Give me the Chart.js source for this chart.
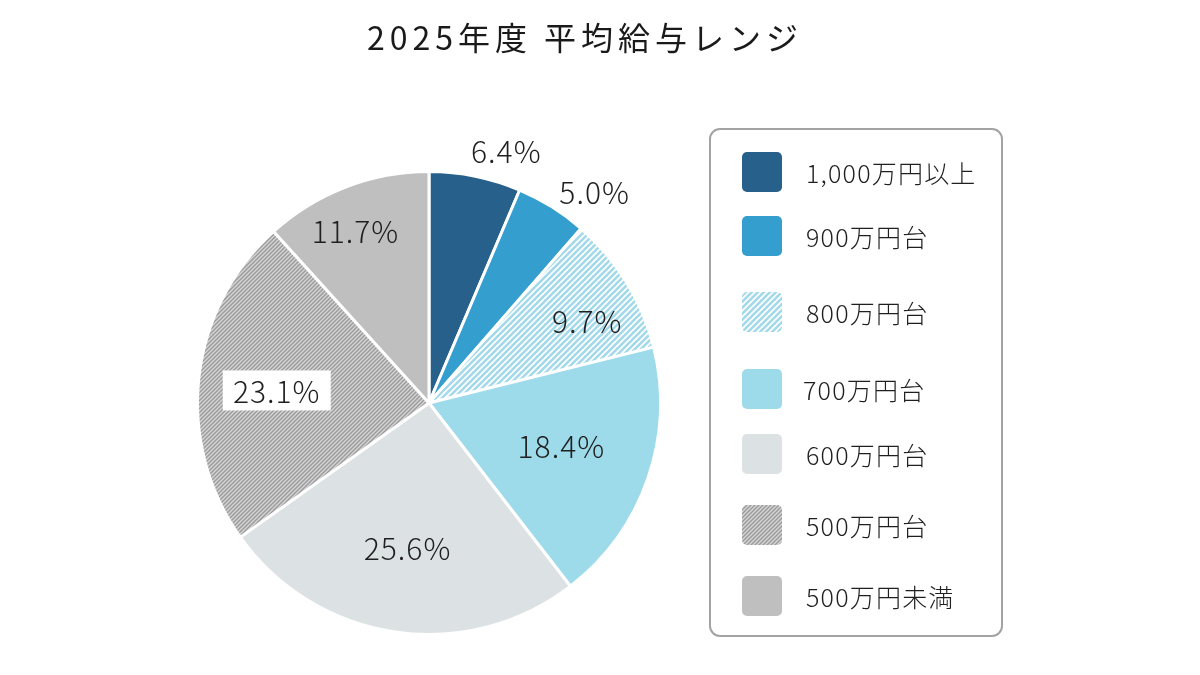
<!DOCTYPE html>
<html lang="ja">
<head>
<meta charset="utf-8">
<script src="https://cdn.jsdelivr.net/npm/chart.js@4/dist/chart.umd.min.js"></script>
<style>
  html, body { margin: 0; padding: 0; background: #fff; }
  #wrap { position: relative; width: 1200px; height: 675px; }
</style>
</head>
<body>
<div id="wrap"><canvas id="salary-pie" width="1200" height="675"></canvas></div>
<script>
const chartTitle = "2025年度 平均給与レンジ";
const rangeLabels = ["1,000万円以上", "900万円台", "800万円台", "700万円台", "600万円台", "500万円台", "500万円未満"];
const shareValues = [6.4, 5.0, 9.7, 18.4, 25.6, 23.1, 11.7];

// label placement per slice: radius factor and angle nudge (deg)
const labelRadius = [1.14, 1.16, 0.77, 0.6, 0.63, 0.66, 0.81];
const labelNudge = [5.5, 6, 4, -1.5, 0, -1.5, -2];
const legendRowY = [172, 236, 312, 389, 454, 525, 596];

const FONT = '"Noto Sans CJK JP", "Noto Sans", sans-serif';

function stripes(bg, fg, size, line) {
  const c = document.createElement("canvas");
  c.width = size;
  c.height = size;
  const g = c.getContext("2d");
  g.fillStyle = bg;
  g.fillRect(0, 0, size, size);
  g.strokeStyle = fg;
  g.lineWidth = line;
  g.beginPath();
  for (let k = -1; k <= 1; k++) {
    g.moveTo(k * size - 1, size + 1);
    g.lineTo(k * size + size + 1, -1);
  }
  g.stroke();
  return g.createPattern(c, "repeat");
}

const ctx = document.getElementById("salary-pie").getContext("2d");
const fills = [
  "#27608a",
  "#349ecf",
  stripes("#ffffff", "#a3d9e9", 6, 2.6),
  "#9ddbeb",
  "#dce1e4",
  stripes("#d6d6d6", "#9c9c9c", 4, 1.5),
  "#bfbfbf",
];

const overlay = {
  id: "overlay",
  afterDraw(chart) {
    const g = chart.ctx;
    const meta = chart.getDatasetMeta(0);

    // title
    g.save();
    g.fillStyle = "#1a1a1a";
    g.font = `32px ${FONT}`;
    g.letterSpacing = "5px";
    g.textAlign = "center";
    g.textBaseline = "middle";
    g.fillText(chartTitle, 585, 38);
    g.restore();

    // slice labels
    meta.data.forEach((arc, i) => {
      const mid = (arc.startAngle + arc.endAngle) / 2 + (labelNudge[i] * Math.PI) / 180;
      const r = arc.outerRadius * labelRadius[i];
      const x = arc.x + Math.cos(mid) * r;
      const y = arc.y + Math.sin(mid) * r;
      const text = shareValues[i].toFixed(1) + "%";
      g.save();
      g.font = `300 30px ${FONT}`;
      g.letterSpacing = "1px";
      g.textAlign = "center";
      g.textBaseline = "middle";
      if (i === 5) {
        g.fillStyle = "#ffffff";
        g.fillRect(x - 54, y - 20, 108, 40);
      }
      g.fillStyle = "#1f1f1f";
      g.fillText(text, x, y + 1);
      g.restore();
    });

    // legend
    g.save();
    g.strokeStyle = "#a3a3a3";
    g.lineWidth = 2;
    g.beginPath();
    g.roundRect(710, 129, 292, 507, 10);
    g.stroke();
    rangeLabels.forEach((label, i) => {
      const cy = legendRowY[i];
      g.fillStyle = fills[i];
      g.beginPath();
      g.roundRect(742, cy - 20, 40, 40, 5);
      g.fill();
      g.fillStyle = "#1f1f1f";
      g.font = `300 25px ${FONT}`;
      g.letterSpacing = "1.2px";
      g.textAlign = "left";
      g.textBaseline = "middle";
      g.fillText(label, i === 3 ? 803 : 806, cy + 1);
    });
    g.restore();
  },
};

new Chart(ctx, {
  type: "pie",
  data: {
    labels: rangeLabels,
    datasets: [
      {
        data: shareValues,
        backgroundColor: fills,
        borderColor: "#ffffff",
        borderWidth: 3,
        hoverOffset: 0,
      },
    ],
  },
  options: {
    responsive: false,
    animation: false,
    layout: { padding: { left: 196, right: 538, top: 170, bottom: 39 } },
    plugins: {
      legend: { display: false },
      tooltip: { enabled: false },
      title: { display: false },
    },
  },
  plugins: [overlay],
});
</script>
</body>
</html>
